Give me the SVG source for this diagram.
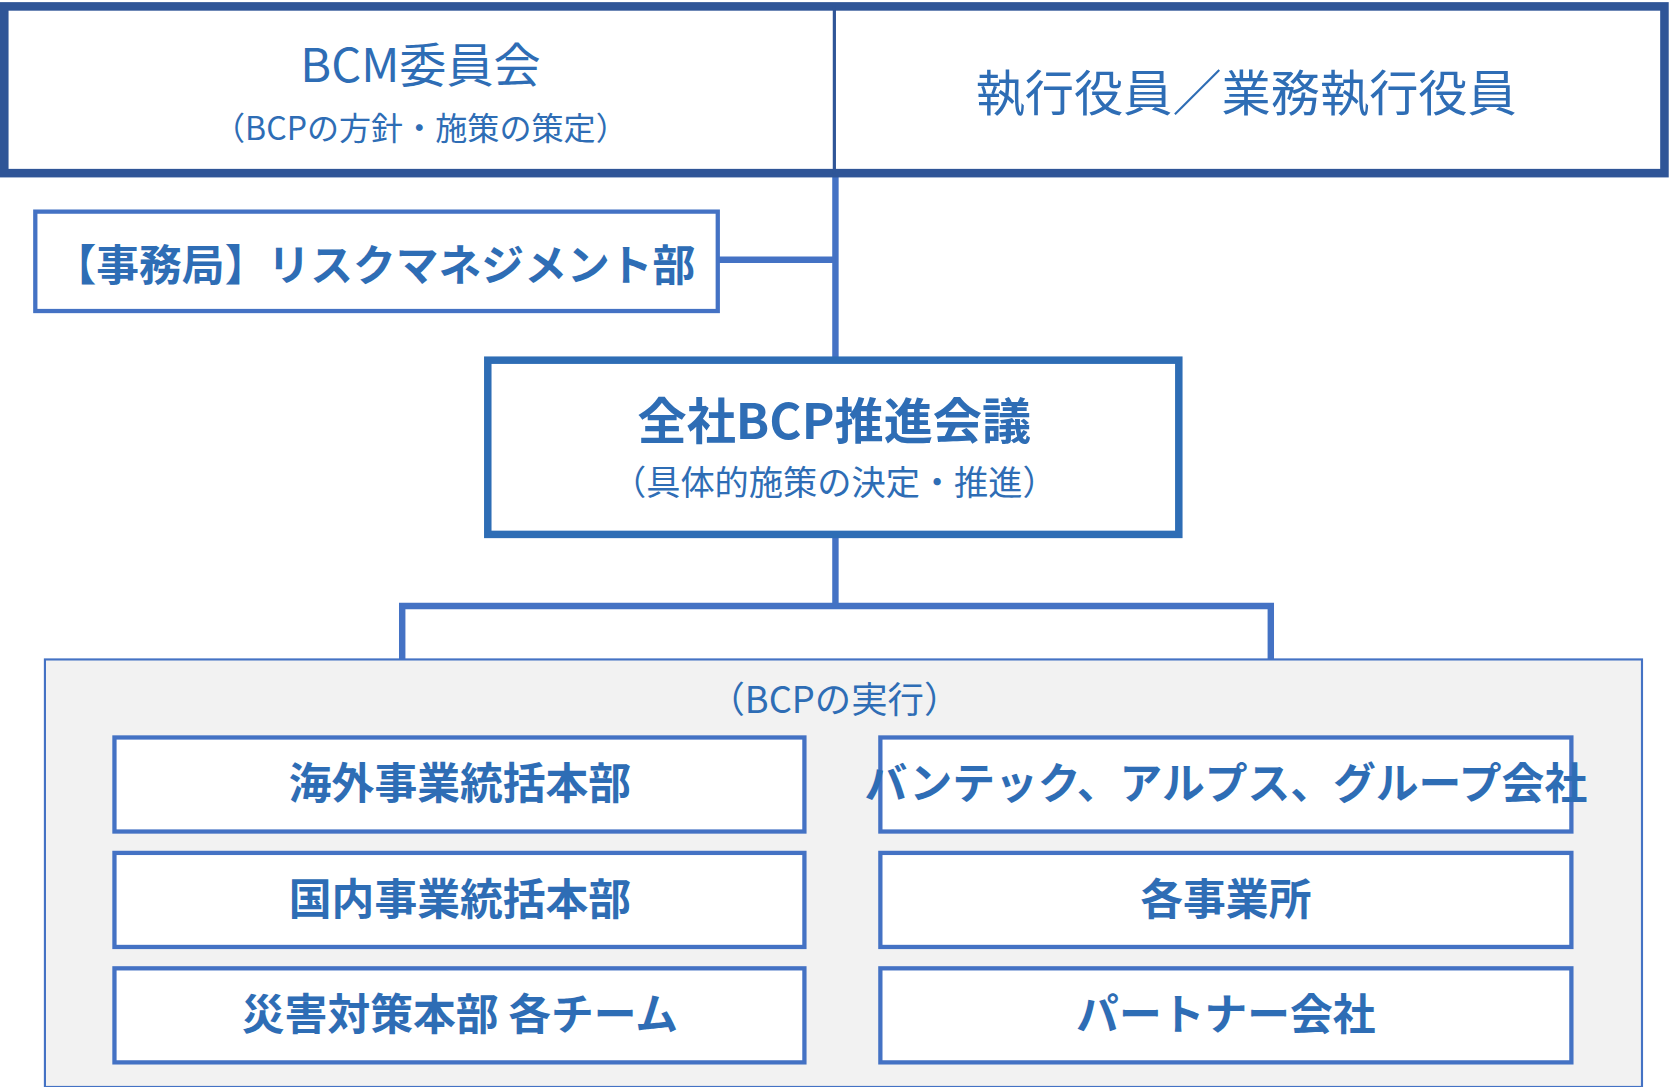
<svg xmlns="http://www.w3.org/2000/svg" width="1674" height="1087" viewBox="0 0 1674 1087">
<style>
text{font-family:"Noto Sans CJK JP","Liberation Sans",sans-serif;fill:#2E6DB5;text-anchor:middle}
.b{font-weight:bold}
.box{fill:#fff;stroke:#4472C4;stroke-width:4}
.ln{stroke:#4472C4;stroke-width:6;fill:none}
</style>
<rect width="1674" height="1087" fill="#fff"/>
<g transform="scale(1.0697 1.0688)">
<g id="connectors">
<line class="ln" x1="781" y1="165" x2="781" y2="337"/>
<line class="ln" x1="671" y1="243" x2="781" y2="243"/>
<polyline class="ln" points="376,617 376,567 1188,567 1188,617"/>
<line class="ln" x1="781" y1="500" x2="781" y2="567"/>
</g>
<g id="top">
<rect x="4" y="6" width="1552" height="156" fill="#fff" stroke="#2F5597" stroke-width="8"/>
<line x1="780" y1="6" x2="780" y2="162" stroke="#2F5597" stroke-width="3"/>
<text x="393" y="77" font-size="44">BCM委員会</text>
<text x="393" y="131" font-size="30">（BCPの方針・施策の策定）</text>
<text x="1165" y="104" font-size="46">執行役員／業務執行役員</text>
</g>
<g id="secretariat">
<rect class="box" x="33" y="198" width="638" height="93"/>
<text class="b" x="350" y="263" font-size="40">【事務局】リスクマネジメント部</text>
</g>
<g id="central">
<rect x="456" y="337" width="646" height="163" fill="#fff" stroke="#2E6DB5" stroke-width="7"/>
<text class="b" x="780" y="411" font-size="46">全社BCP推進会議</text>
<text x="780" y="463" font-size="32">（具体的施策の決定・推進）</text>
</g>
<g id="execution">
<rect x="42" y="617" width="1493" height="400" fill="#F2F2F2" stroke="#4472C4" stroke-width="2"/>
<text x="780" y="667" font-size="34">（BCPの実行）</text>
</g>
<g id="n1"><rect class="box" x="107" y="690" width="645" height="88"/><text class="b" x="430" y="748" font-size="40">海外事業統括本部</text></g>
<g id="n2"><rect class="box" x="107" y="798" width="645" height="88"/><text class="b" x="430" y="856" font-size="40">国内事業統括本部</text></g>
<g id="n3"><rect class="box" x="107" y="906" width="645" height="88"/><text class="b" x="430" y="964" font-size="40">災害対策本部 各チーム</text></g>
<g id="n4"><rect class="box" x="823" y="690" width="646" height="88"/><text class="b" x="1146" y="748" font-size="40">バンテック、アルプス、グループ会社</text></g>
<g id="n5"><rect class="box" x="823" y="798" width="646" height="88"/><text class="b" x="1146" y="856" font-size="40">各事業所</text></g>
<g id="n6"><rect class="box" x="823" y="906" width="646" height="88"/><text class="b" x="1146" y="964" font-size="40">パートナー会社</text></g>
</g>
</svg>
